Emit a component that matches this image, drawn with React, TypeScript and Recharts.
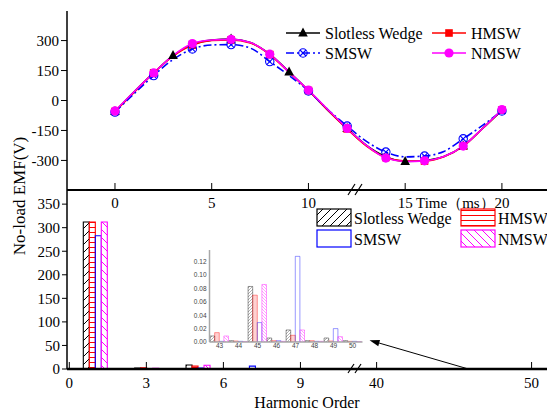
import React from 'react';
import { LineChart, Line, XAxis, YAxis, BarChart, Bar, Legend, ReferenceLine } from 'recharts';

const SERIF = '"Liberation Serif", "Times New Roman", Times, serif';
const SANS = 'Arial, "Liberation Sans", Helvetica, sans-serif';

// ---- series meta ----
const seriesNames = ['Slotless Wedge', 'HMSW', 'SMSW', 'NMSW'];
const seriesKeys = ['sw', 'hmsw', 'smsw', 'nmsw'];
const seriesColors = ['#000000', '#ff0000', '#0000ff', '#ff00ff'];
const markerKinds = ['triangle', 'square', 'crossCircle', 'circle'];
const markerEvery = [3, 2, 2, 2];
const lineDashes = [undefined, undefined, '8 3 2 3', undefined];
const barFills = ['url(#hatchBlack)', 'url(#linesRed)', 'none', 'url(#hatchMagenta)'];
const insetFills = ['url(#iHatchBlack)', 'url(#iLinesRed)', 'none', 'url(#iHatchMagenta)'];

// ---- no-load EMF waveform (top) ----
const timeMs = [0, 1, 2, 3, 4, 5, 6, 7, 8, 9, 10, 11, 12, 13, 14, 15, 16, 17, 18, 19, 20];
const slotlessWedgeEmf = [-55, 45, 138, 225, 280, 302, 308, 290, 232, 143, 50, -48, -140, -225, -282, -305, -300, -280, -228, -140, -48];
const hmswEmf = [-55, 42, 138, 222, 278, 300, 303, 288, 230, 140, 50, -48, -142, -228, -285, -303, -303, -282, -228, -140, -48];
const smswEmf = [-58, 35, 125, 205, 258, 278, 280, 262, 195, 125, 48, -45, -128, -205, -258, -282, -278, -255, -192, -125, -52];
const nmswEmf = [-52, 45, 138, 225, 285, 303, 306, 290, 232, 142, 52, -45, -140, -225, -288, -305, -302, -280, -228, -140, -45];
const timeTicks = [0, 5, 10, 15, 20];
const emfTicks = [-300, -150, 0, 150, 300];

// ---- harmonic spectrum (bottom) ----
const harmonicOrders = [1, 3, 5, 7, 9];
const slotlessWedgeHarm = [312, 2, 8.5, 0.5, 0.3];
const hmswHarm = [312, 2.5, 6, 0.5, 0.3];
const smswHarm = [283, 0.5, 2, 6, 0.3];
const nmswHarm = [312, 1.5, 8, 0.8, 0.3];
const harmonicTicks = [0, 3, 6, 9, 40, 50];
const harmonicAmpTicks = [0, 50, 100, 150, 200, 250, 300, 350];

// ---- inset (orders 43..50) ----
const insetOrders = [43, 44, 45, 46, 47, 48, 49, 50];
const slotlessWedgeInset = [0.009, 0.002, 0.083, 0.006, 0.018, 0.002, 0.006, 0.002];
const hmswInset = [0.014, 0.0015, 0.070, 0.002, 0.010, 0.002, 0.0015, 0.001];
const smswInset = [0.001, 0.001, 0.029, 0.002, 0.128, 0.001, 0.020, 0.001];
const nmswInset = [0.009, 0.0005, 0.086, 0.001, 0.018, 0.001, 0.008, 0.0005];
const insetTicks = [0, 0.02, 0.04, 0.06, 0.08, 0.1, 0.12];
const insetOrderTicks = [43, 44, 45, 46, 47, 48, 49, 50];

// broken harmonic axis: linear up to the break, compressed after it
const toAxis = (h: number) => (h <= 20 ? h : 11.966 + (h - 40) * 0.6034);
const fromAxis = (v: number) => (v <= 11.5 ? Math.round(v) : Math.round(40 + (v - 11.966) / 0.6034));

const emfSeries = [slotlessWedgeEmf, hmswEmf, smswEmf, nmswEmf];
const harmSeries = [slotlessWedgeHarm, hmswHarm, smswHarm, nmswHarm];
const insetSeries = [slotlessWedgeInset, hmswInset, smswInset, nmswInset];

const timeData = timeMs.map((t, i) => {
  const row: any = { t };
  seriesKeys.forEach((k, s) => (row[k] = emfSeries[s][i]));
  return row;
});
const harmData = harmonicOrders.map((h, i) => {
  const row: any = { pos: toAxis(h), order: h };
  seriesKeys.forEach((k, s) => (row[k] = harmSeries[s][i]));
  return row;
});
const insetData = insetOrders.map((h, i) => {
  const row: any = { order: h };
  seriesKeys.forEach((k, s) => (row[k] = insetSeries[s][i]));
  return row;
});

const Marker = ({ kind, cx, cy, color }: any) => {
  if (kind === 'triangle')
    return <polygon points={`${cx},${cy - 5.5} ${cx - 4.8},${cy + 3.5} ${cx + 4.8},${cy + 3.5}`} fill={color} />;
  if (kind === 'square') return <rect x={cx - 3.8} y={cy - 3.8} width={7.6} height={7.6} fill={color} />;
  if (kind === 'crossCircle')
    return (
      <g stroke={color} strokeWidth={1.1} fill="none">
        <circle cx={cx} cy={cy} r={4.2} />
        <line x1={cx - 3} y1={cy - 3} x2={cx + 3} y2={cy + 3} />
        <line x1={cx - 3} y1={cy + 3} x2={cx + 3} y2={cy - 3} />
      </g>
    );
  return <circle cx={cx} cy={cy} r={4.6} fill={color} />;
};

const makeDot = (s: number) => (props: any) => {
  const { cx, cy, payload, index } = props;
  if (payload.t % markerEvery[s] !== 0) return <g key={`d${s}-${index}`} />;
  return (
    <g key={`d${s}-${index}`}>
      <Marker kind={markerKinds[s]} cx={cx} cy={cy} color={seriesColors[s]} />
    </g>
  );
};

const TimeTick = (props: any) => {
  const { x, y, payload } = props;
  return (
    <g>
      <line x1={x} x2={x} y1={y - 1} y2={y - 7} stroke="#000" strokeWidth={1} />
      <text x={x} y={y + 18} textAnchor="middle" fontFamily={SERIF} fontSize={15} fill="#000">
        {payload.value}
      </text>
    </g>
  );
};

const TimeLabel = (props: any) => {
  const vb = props.viewBox || { x: 67, y: 190 };
  return (
    <text x={vb.x + 349} y={vb.y + 18} fontFamily={SERIF} fontSize={15} fill="#000">
      Time（ms）
    </text>
  );
};

const HarmTick = (props: any) => {
  const { x, y, payload } = props;
  return (
    <g>
      <line x1={x} x2={x} y1={y - 1} y2={y - 7} stroke="#000" strokeWidth={1} />
      <text x={x} y={y + 19} textAnchor="middle" fontFamily={SERIF} fontSize={15} fill="#000">
        {fromAxis(payload.value)}
      </text>
    </g>
  );
};

const InsetXTick = (props: any) => {
  const { x, y, payload } = props;
  return (
    <text x={x} y={y + 6} textAnchor="middle" fontFamily={SANS} fontSize={6.5} fill="#444">
      {payload.value}
    </text>
  );
};

const TopLegend = () => (
  <svg width={265} height={46} style={{ overflow: 'visible' }}>
    {seriesNames.map((name, i) => {
      const col = i % 2;
      const row = Math.floor(i / 2);
      const x0 = 6 + col * 146;
      const cy = 13 + row * 20;
      return (
        <g key={name}>
          <line x1={x0} x2={x0 + 34} y1={cy} y2={cy} stroke={seriesColors[i]} strokeWidth={1.6} strokeDasharray={lineDashes[i]} />
          <Marker kind={markerKinds[i]} cx={x0 + 17} cy={cy} color={seriesColors[i]} />
          <text x={x0 + 39} y={cy + 5.5} fontFamily={SERIF} fontSize={16} fill="#000">
            {name}
          </text>
        </g>
      );
    })}
  </svg>
);

const BottomLegend = () => (
  <svg width={230} height={46} style={{ overflow: 'visible' }}>
    {seriesNames.map((name, i) => {
      const col = i % 2;
      const row = Math.floor(i / 2);
      const x0 = 1 + col * 144;
      const y0 = 1 + row * 21;
      return (
        <g key={name}>
          <rect x={x0} y={y0} width={34} height={17} fill={barFills[i] === 'none' ? '#fff' : barFills[i]} stroke={seriesColors[i]} strokeWidth={1.2} />
          <text x={x0 + 37} y={y0 + 14.5} fontFamily={SERIF} fontSize={16} fill="#000">
            {name}
          </text>
        </g>
      );
    })}
  </svg>
);

const ArrowShape = (props: any) => {
  const { x1, y1, x2, y2 } = props;
  if ([x1, y1, x2, y2].some((v) => typeof v !== 'number')) return <g />;
  const ang = Math.atan2(y2 - y1, x2 - x1);
  const L = 10;
  const W = 3.2;
  const bx = x2 - L * Math.cos(ang);
  const by = y2 - L * Math.sin(ang);
  const px = -Math.sin(ang) * W;
  const py = Math.cos(ang) * W;
  return (
    <g>
      <line x1={x1} y1={y1} x2={bx} y2={by} stroke="#000" strokeWidth={1} />
      <polygon points={`${x2},${y2} ${bx + px},${by + py} ${bx - px},${by - py}`} fill="#000" />
    </g>
  );
};

const PatternDefs = () => (
  <defs>
    <pattern id="hatchBlack" patternUnits="userSpaceOnUse" width={8} height={8}>
      <rect width={8} height={8} fill="#fff" />
      <path d="M0,8 L8,0 M-2,2 L2,-2 M6,10 L10,6" stroke="#000" strokeWidth={1} />
    </pattern>
    <pattern id="linesRed" patternUnits="userSpaceOnUse" width={6} height={5}>
      <rect width={6} height={5} fill="#fff" />
      <line x1={0} x2={6} y1={2.5} y2={2.5} stroke="#ff0000" strokeWidth={1} />
    </pattern>
    <pattern id="hatchMagenta" patternUnits="userSpaceOnUse" width={8} height={8}>
      <rect width={8} height={8} fill="#fff" />
      <path d="M0,0 L8,8 M-2,6 L2,10 M6,-2 L10,2" stroke="#ff00ff" strokeWidth={1} />
    </pattern>
  </defs>
);

const InsetDefs = () => (
  <defs>
    <pattern id="iHatchBlack" patternUnits="userSpaceOnUse" width={3} height={3}>
      <path d="M0,3 L3,0" stroke="#000" strokeWidth={0.5} />
    </pattern>
    <pattern id="iLinesRed" patternUnits="userSpaceOnUse" width={3} height={2}>
      <line x1={0} x2={3} y1={1} y2={1} stroke="#ff0000" strokeWidth={0.6} />
    </pattern>
    <pattern id="iHatchMagenta" patternUnits="userSpaceOnUse" width={3} height={3}>
      <path d="M0,0 L3,3" stroke="#ff00ff" strokeWidth={0.6} />
    </pattern>
  </defs>
);

export default function App() {
  return (
    <div style={{ position: 'absolute', left: 0, top: 0, width: 547, height: 413, background: '#fff', overflow: 'hidden' }}>
      {/* top: waveform */}
      <div style={{ position: 'absolute', left: 0, top: 0 }}>
        <LineChart width={547} height={220} data={timeData} margin={{ top: 11, right: 0, bottom: 0, left: 0 }}>
          <XAxis
            xAxisId="b"
            dataKey="t"
            type="number"
            domain={[-2.48, 22.33]}
            ticks={timeTicks}
            interval={0}
            allowDataOverflow
            height={30}
            axisLine={{ stroke: '#000', strokeWidth: 2 }}
            tickLine={false}
            tickSize={0}
            tickMargin={0}
            tick={<TimeTick />}
            label={<TimeLabel />}
          />
          <XAxis
            xAxisId="top"
            orientation="top"
            dataKey="t"
            type="number"
            domain={[-2.48, 22.33]}
            allowDataOverflow
            height={0}
            tick={false}
            tickLine={false}
            axisLine={{ stroke: '#000', strokeWidth: 1.5 }}
          />
          <YAxis
            type="number"
            domain={[-448, 448]}
            ticks={emfTicks}
            interval={0}
            width={67}
            allowDataOverflow
            axisLine={{ stroke: '#000', strokeWidth: 1.5 }}
            tickLine={{ stroke: '#000' }}
            tickSize={6}
            tickMargin={2}
            tick={{ fontFamily: SERIF, fontSize: 15, fill: '#000' }}
          />
          {seriesKeys.map((k, s) => (
            <Line
              key={k}
              xAxisId="b"
              dataKey={k}
              name={seriesNames[s]}
              type="monotone"
              stroke={seriesColors[s]}
              strokeWidth={1.6}
              strokeDasharray={lineDashes[s]}
              dot={makeDot(s)}
              activeDot={false}
              isAnimationActive={false}
            />
          ))}
          <Legend
            layout="horizontal"
            verticalAlign="middle"
            align="center"
            wrapperStyle={{ left: 280, top: 20, width: 265, height: 46 }}
            content={() => <TopLegend />}
          />
        </LineChart>
      </div>

      {/* bottom: harmonic spectrum */}
      <div style={{ position: 'absolute', left: 0, top: 0 }}>
        <BarChart width={547} height={413} data={harmData} margin={{ top: 190, right: 0, bottom: 0, left: 0 }} barGap={0}>
          <PatternDefs />
          <XAxis
            dataKey="pos"
            type="number"
            domain={[-0.09, 18.6]}
            ticks={harmonicTicks.map(toAxis)}
            interval={0}
            allowDataOverflow
            height={44}
            axisLine={{ stroke: '#000', strokeWidth: 2.5 }}
            tickLine={false}
            tickSize={0}
            tickMargin={0}
            tick={<HarmTick />}
            label={{ value: 'Harmonic Order', position: 'insideBottom', offset: 5, fontFamily: SERIF, fontSize: 16, fill: '#000' }}
          />
          <YAxis
            type="number"
            domain={[0, 380]}
            ticks={harmonicAmpTicks}
            interval={0}
            width={67}
            allowDataOverflow
            axisLine={{ stroke: '#000', strokeWidth: 1.5 }}
            tickLine={{ stroke: '#000' }}
            tickSize={5}
            tickMargin={2}
            tick={{ fontFamily: SERIF, fontSize: 15, fill: '#000' }}
          />
          {seriesKeys.map((k, s) => (
            <Bar
              key={k}
              dataKey={k}
              name={seriesNames[s]}
              barSize={6}
              fill={barFills[s]}
              stroke={seriesColors[s]}
              strokeWidth={1.1}
              isAnimationActive={false}
            />
          ))}
          <ReferenceLine
            segment={[
              { x: 15.5, y: 0.6 },
              { x: 11.69, y: 61 },
            ]}
            ifOverflow="visible"
            shape={(p: any) => <ArrowShape {...p} />}
          />
          <Legend
            layout="horizontal"
            verticalAlign="middle"
            align="center"
            wrapperStyle={{ left: 316, top: 208, width: 230, height: 46 }}
            content={() => <BottomLegend />}
          />
        </BarChart>
      </div>

      {/* inset: orders 43..50 */}
      <div style={{ position: 'absolute', left: 183, top: 245 }}>
        <BarChart width={182} height={110} data={insetData} margin={{ top: 5, right: 2.5, bottom: 0, left: 0 }} barGap={0}>
          <InsetDefs />
          <XAxis
            dataKey="order"
            type="number"
            domain={[42.47, 50.52]}
            ticks={insetOrderTicks}
            interval={0}
            allowDataOverflow
            height={13}
            axisLine={{ stroke: '#a8a8a8', strokeWidth: 1.5 }}
            tickLine={false}
            tickSize={0}
            tickMargin={0}
            tick={<InsetXTick />}
          />
          <XAxis xAxisId="top" orientation="top" dataKey="order" type="number" domain={[42.47, 50.52]} allowDataOverflow height={0} tick={false} tickLine={false} axisLine={{ stroke: '#a8a8a8', strokeWidth: 1.5 }} />
          <YAxis
            type="number"
            domain={[0, 0.1375]}
            ticks={insetTicks}
            interval={0}
            width={26.5}
            allowDataOverflow
            axisLine={{ stroke: '#a8a8a8', strokeWidth: 1.5 }}
            tickLine={false}
            tickSize={0}
            tickMargin={3}
            tickFormatter={(v: number) => v.toFixed(2)}
            tick={{ fontFamily: SANS, fontSize: 6.5, fill: '#444' }}
          />
          <YAxis yAxisId="right" orientation="right" type="number" domain={[0, 0.1375]} width={0} tick={false} tickLine={false} axisLine={{ stroke: '#a8a8a8', strokeWidth: 1.5 }} />
          {seriesKeys.map((k, s) => (
            <Bar
              key={k}
              dataKey={k}
              name={seriesNames[s]}
              barSize={4.6}
              fill={insetFills[s]}
              stroke={seriesColors[s]}
              strokeOpacity={0.45}
              fillOpacity={0.6}
              strokeWidth={0.9}
              isAnimationActive={false}
            />
          ))}
        </BarChart>
      </div>

      {/* decorations: shared y label and axis-break marks */}
      <svg width={547} height={413} style={{ position: 'absolute', left: 0, top: 0, pointerEvents: 'none' }}>
        <text x={25} y={196} transform="rotate(-90, 25, 196)" textAnchor="middle" fontFamily={SERIF} fontSize={17} fill="#000">
          No-load EMF(V)
        </text>
        <g stroke="#000" strokeWidth={1.2}>
          <line x1={348} y1={195} x2={355} y2={184} />
          <line x1={355} y1={195} x2={362} y2={184} />
          <line x1={348} y1={373} x2={354} y2={364} />
          <line x1={355} y1={373} x2={361} y2={364} />
        </g>
      </svg>
    </div>
  );
}
